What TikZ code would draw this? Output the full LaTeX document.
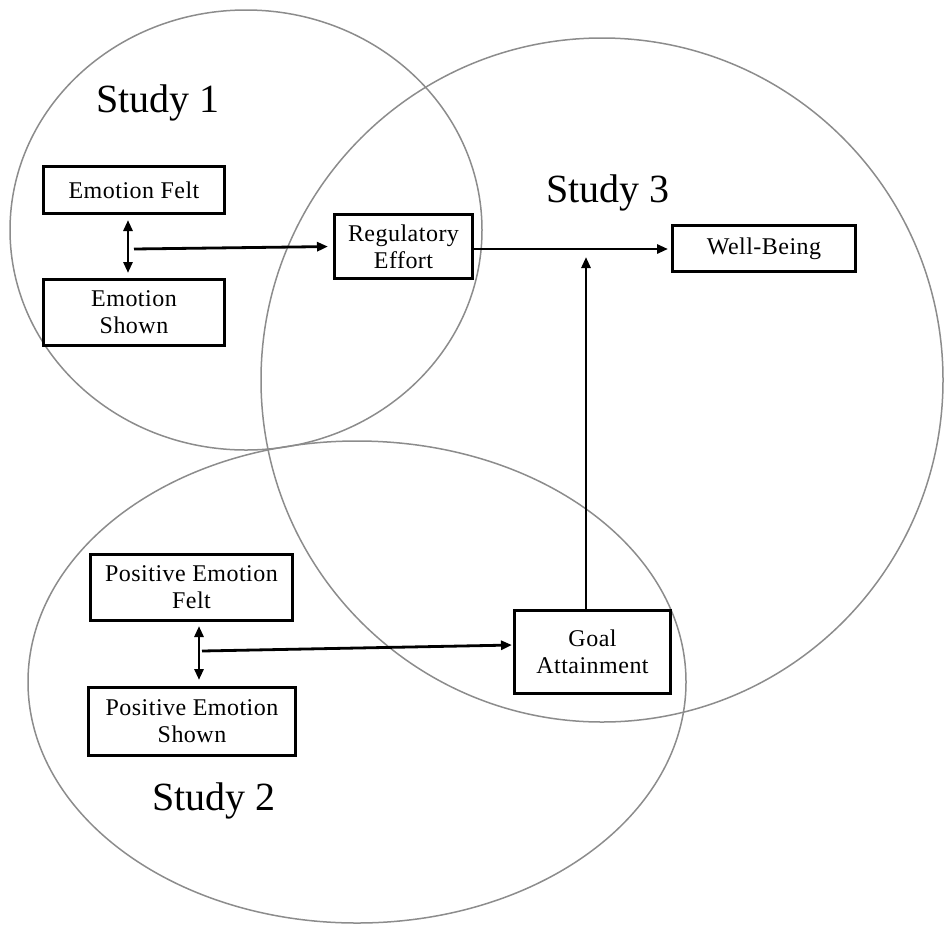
\documentclass[tikz,border=0pt]{standalone}
\usepackage{fontspec}
\setmainfont{Liberation Serif}
\newfontfamily\boxfont[LetterSpace=2]{Liberation Serif}
\usetikzlibrary{arrows.meta}

\tikzset{
  studyring/.style={draw=black!45, line width=1.5pt},
  varbox/.style={draw=black, fill=white, line width=3pt, inner sep=0pt,
    align=center, font=\boxfont\fontsize{24}{27}\selectfont},
  studylabel/.style={font=\fontsize{40}{44}\selectfont, inner sep=0pt},
  link/.style={line width=2.8pt, -{Triangle[length=11pt,width=9pt]}},
  bilink/.style={line width=2.8pt, {Triangle[length=11pt,width=9pt]}-{Triangle[length=11pt,width=9pt]}},
}

\begin{document}
\begin{tikzpicture}[x=1pt, y=-1pt]
  \useasboundingbox (0,0) rectangle (944,924);

  % the three study circles
  \draw[studyring] (246,230) ellipse [x radius=236pt, y radius=220pt];
  \draw[studyring] (602,380) ellipse [x radius=341pt, y radius=342pt];
  \draw[studyring] (357,682) ellipse [x radius=329pt, y radius=241pt];

  % study labels
  \node[studylabel] (s1) at (158,103) {Study 1};
  \node[studylabel] (s3) at (608,193) {Study 3};
  \node[studylabel] (s2) at (214,801) {Study 2};

  % variables
  \node[varbox, minimum width=181pt, minimum height=47pt] (ef) at (134,190) {Emotion Felt};
  \node[varbox, minimum width=181pt, minimum height=66pt] (es) at (134,312.5) {Emotion\\Shown};
  \node[varbox, minimum width=138pt, minimum height=64pt] (re) at (403.5,246.5) {Regulatory\\Effort};
  \node[varbox, minimum width=183pt, minimum height=46pt] (wb) at (764,248.5) {Well-Being};
  \node[varbox, minimum width=202pt, minimum height=66pt] (pf) at (191.5,587.5) {Positive Emotion\\Felt};
  \node[varbox, minimum width=207pt, minimum height=68pt] (ps) at (192,721.5) {Positive Emotion\\Shown};
  \node[varbox, minimum width=156pt, minimum height=83pt] (ga) at (592.5,652) {Goal\\Attainment};

  % branch points and free ends
  \coordinate (j1) at (134,249);
  \coordinate (j2) at (202,651);
  \coordinate (up) at (586,257);

  % Study 1 paths
  \draw[bilink, shorten <=5pt, shorten >=5pt] (ef.south -| 128,0) -- (es.north -| 128,0);
  \draw[link, shorten >=5pt] (j1) -- (re.west);

  % Study 3 paths
  \draw[link, shorten >=3pt] (re.east |- 0,249) -- (wb.west |- 0,249);
  \draw[link] (ga.north -| up) -- (up);

  % Study 2 paths
  \draw[bilink, shorten <=4pt, shorten >=6pt] (pf.south -| 199,0) -- (ps.north -| 199,0);
  \draw[link, shorten >=1pt] (j2) -- ([yshift=7pt]ga.west);
\end{tikzpicture}
\end{document}
